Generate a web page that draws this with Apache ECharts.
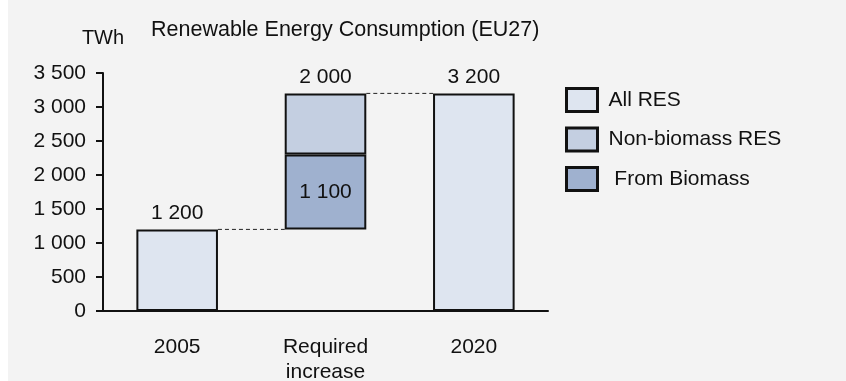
<!DOCTYPE html>
<html>
<head>
<meta charset="utf-8">
<script src="https://cdn.jsdelivr.net/npm/echarts@6/dist/echarts.min.js"></script>
<style>
  html, body { margin: 0; padding: 0; background: #ffffff; }
  #chart { width: 846px; height: 381px; }
</style>
</head>
<body>
<div id="chart"></div>
<script>
// Renewable energy consumption in the EU27, TWh (waterfall: 2005 -> increase -> 2020)
const categories = ['2005', 'Required\nincrease', '2020'];
const allRes     = [1200, null, 3200];   // total renewable consumption
const baseLevel  = [null, 1200, null];   // invisible offset for the increase column
const biomass    = [null, 1100, null];   // increase from biomass
const nonBiomass = [null, 900, null];    // increase from non-biomass sources
const yTicks = { min: 0, max: 3500, step: 500 };

const FONT = "'Liberation Sans', Arial, sans-serif";
const TEXT = '#111111';
const BAR_RATIO = 0.55;

// "3 500" style thousands separator
const fmt = v => String(Math.round(v)).replace(/\B(?=(\d{3})+(?!\d))/g, ' ');

// Total of the increase column, labelled above its top segment
const increaseTotal = biomass.map((b, i) => b == null ? null : b + nonBiomass[i]);

// Connector levels: the top of each column, carried to the next column
const connectors = [];
for (let i = 0; i < categories.length - 1; i++) {
  const top = allRes[i] != null ? allRes[i] : baseLevel[i] + biomass[i] + nonBiomass[i];
  connectors.push([i, top]);
}

const seg = (v) => v == null ? '-' : v;
const barBorder = { borderColor: '#111111', borderWidth: 2 };

const chart = echarts.init(document.getElementById('chart'), null, { renderer: 'canvas' });

chart.setOption({
  backgroundColor: '#f3f3f3',
  animation: false,
  textStyle: { fontFamily: FONT },
  graphic: [
    { type: 'rect', left: 0, top: 0, shape: { width: 8, height: 381 }, style: { fill: '#ffffff' }, silent: true }
  ],
  title: {
    text: 'Renewable Energy Consumption (EU27)',
    left: 146,
    top: 14,
    textStyle: { fontFamily: FONT, fontSize: 21.5, fontWeight: 'normal', color: TEXT }
  },
  legend: {
    orient: 'vertical',
    left: 560,
    top: 82,
    itemWidth: 31,
    itemHeight: 23,
    itemGap: 13.5,
    icon: 'rect',
    data: ['All RES', 'Non-biomass RES', 'From Biomass'],
    formatter: name => name === 'From Biomass' ? ' ' + name : name,
    textStyle: { fontFamily: FONT, fontSize: 21, lineHeight: 23, color: TEXT, padding: [0, 0, 0, 6] },
    itemStyle: { borderColor: '#111111', borderWidth: 3 }
  },
  grid: { left: 103, right: 298, top: 73, bottom: 70, containLabel: false, outerBoundsMode: 'none' },
  xAxis: {
    type: 'category',
    data: categories,
    axisLine: { lineStyle: { color: '#111111', width: 2 } },
    axisTick: { show: false },
    axisLabel: { fontFamily: FONT, fontSize: 21, color: TEXT, margin: 24, lineHeight: 25 }
  },
  yAxis: {
    type: 'value',
    min: yTicks.min,
    max: yTicks.max,
    interval: yTicks.step,
    name: 'TWh',
    nameLocation: 'end',
    nameGap: 25,
    nameTextStyle: { fontFamily: FONT, fontSize: 20, color: TEXT, align: 'center' },
    splitLine: { show: false },
    axisLine: { show: true, lineStyle: { color: '#111111', width: 2 } },
    axisTick: { show: true, inside: false, length: 7, lineStyle: { color: '#111111', width: 2 } },
    axisLabel: { fontFamily: FONT, fontSize: 21, color: TEXT, margin: 17, formatter: fmt }
  },
  series: [
    {
      name: 'All RES',
      type: 'bar',
      stack: 'wf',
      barWidth: (BAR_RATIO * 100) + '%',
      data: allRes.map(seg),
      itemStyle: Object.assign({ color: '#dee5f0' }, barBorder),
      label: {
        show: true, position: 'top', distance: 6,
        fontFamily: FONT, fontSize: 21, color: TEXT,
        formatter: p => fmt(p.value)
      }
    },
    {
      name: 'base',
      type: 'bar',
      stack: 'wf',
      data: baseLevel.map(seg),
      itemStyle: { color: 'transparent', borderWidth: 0 },
      silent: true
    },
    {
      name: 'From Biomass',
      type: 'bar',
      stack: 'wf',
      data: biomass.map(seg),
      itemStyle: Object.assign({ color: '#9fb1cf' }, barBorder),
      label: {
        show: true, position: 'inside',
        fontFamily: FONT, fontSize: 21, color: TEXT,
        formatter: p => fmt(p.value)
      }
    },
    {
      name: 'Non-biomass RES',
      type: 'bar',
      stack: 'wf',
      data: nonBiomass.map(seg),
      itemStyle: Object.assign({ color: '#c4cfe1' }, barBorder),
      label: {
        show: true, position: 'top', distance: 6,
        fontFamily: FONT, fontSize: 21, color: TEXT,
        formatter: p => fmt(increaseTotal[p.dataIndex])
      }
    },
    {
      // dashed connectors between neighbouring column tops
      name: 'connector',
      type: 'custom',
      silent: true,
      z: 1,
      data: connectors,
      renderItem: (params, api) => {
        const idx = api.value(0);
        const p = api.coord([idx, api.value(1)]);
        const band = api.size([1, 0])[0];
        const half = band * BAR_RATIO / 2;
        return {
          type: 'line',
          shape: { x1: p[0] + half, y1: p[1], x2: p[0] + band - half, y2: p[1] },
          style: { stroke: '#222222', lineWidth: 1, lineDash: [4, 3] }
        };
      }
    }
  ]
});
</script>
</body>
</html>
